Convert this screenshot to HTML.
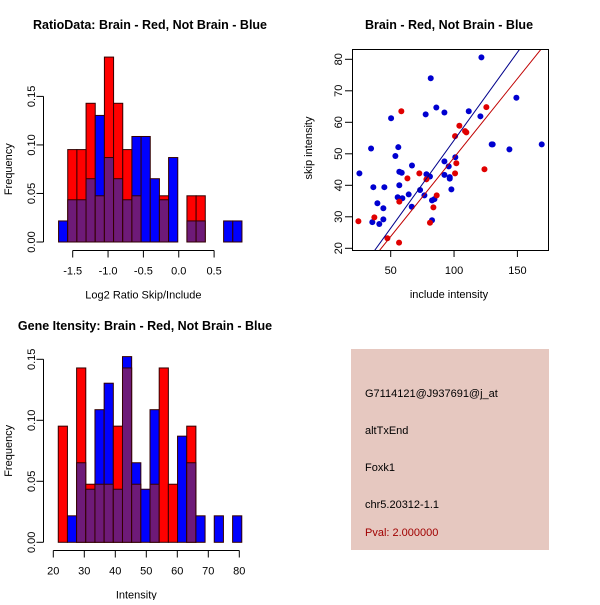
<!DOCTYPE html>
<html><head><meta charset="utf-8"><style>
body{margin:0;background:#fff}
svg text{font-family:"Liberation Sans",sans-serif;fill:#000}
</style></head><body>
<svg id="s" width="600" height="600" xmlns="http://www.w3.org/2000/svg">
<rect x="0" y="0" width="600" height="600" fill="#fff"/>
<text x="150" y="29" font-size="12.5" font-weight="bold" text-anchor="middle">RatioData: Brain - Red, Not Brain - Blue</text>
<text x="449" y="29" font-size="12.5" font-weight="bold" text-anchor="middle">Brain - Red, Not Brain - Blue</text>
<text x="145" y="330" font-size="12.5" font-weight="bold" text-anchor="middle">Gene Itensity: Brain - Red, Not Brain - Blue</text>
<g id="g1"></g>
<g id="g2"></g>
<g id="g3"></g>
<g>
<rect x="351" y="349" width="198" height="201" fill="#e6c8c0"/>
<text x="365" y="397" font-size="11">G7114121@J937691@j_at</text>
<text x="365" y="434" font-size="11">altTxEnd</text>
<text x="365" y="471" font-size="11">Foxk1</text>
<text x="365" y="508" font-size="11">chr5.20312-1.1</text>
<text x="365" y="536" font-size="11" style="fill:#a00000">Pval: 2.000000</text>
</g>
</svg>
<script>
// Ratio histogram data
const ratioStart = -1.70;
const ratioBinWidth = 0.1297;
const ratioRed = [0,0.0952,0.0952,0.1429,0.0476,0.1905,0.1429,0.0952,0.0476,0,0,0.0476,0,0,0.0476,0.0476,0,0,0,0];
const ratioBlue = [0.0217,0.0435,0.0435,0.0652,0.1304,0.0870,0.0652,0.0435,0.1087,0.1087,0.0652,0.0435,0.0870,0,0.0217,0.0217,0,0,0.0217,0.0217];
const ratioXTicks = [-1.5,-1.0,-0.5,0.0,0.5];
const ratioXLabels = ["-1.5","-1.0","-0.5","0.0","0.5"];
const freqTicks = [0,0.05,0.10,0.15];
const freqLabels = ["0.00","0.05","0.10","0.15"];
// Intensity histogram data
const intStart = 21.6;
const intBinWidth = 2.96;
const intRed = [0.0952,0,0.1429,0.0476,0.0476,0.0476,0.0952,0.1429,0.0476,0,0.0476,0.1429,0.0476,0,0.0952,0,0,0,0,0];
const intBlue = [0,0.0217,0.0652,0.0435,0.1087,0.1304,0.0435,0.1522,0.0652,0.0435,0.1087,0,0,0.0870,0.0652,0.0217,0,0.0217,0,0.0217];
const intXTicks = [20,30,40,50,60,70,80];
// Scatter data
const blueX = [25.3,34.5,36.3,35.5,39.5,41,44.2,44.2,45,50.3,53.7,56,56.8,58.7,56.8,55.5,59.2,66.8,64.2,66.6,73.2,76.6,77.6,78.2,81,81.6,82.6,84.5,82.6,86,92.4,92.4,92.4,95.8,96.6,96.6,97.9,101,111.6,120.8,121.6,129.7,130.5,143.7,149.2,169.2];
const blueY = [43.8,51.7,39.4,28.3,34.3,27.7,32.7,29.2,39.4,61.3,49.3,52.1,44.3,44.0,40,36.2,35.9,46.3,37.1,33.2,38.5,36.8,62.5,43.5,42.8,74,35.2,35.6,28.9,64.7,63.1,47.6,43.3,46,42.6,42.1,38.7,48.9,63.5,61.9,80.6,53,53,51.4,67.8,53];
const redX = [24.5,37.1,47.4,56.6,56.8,58.4,63.2,72.6,78.2,81,83.7,86.3,100.8,100.8,101.8,104.2,108.7,109.7,124,125.5];
const redY = [28.6,29.8,23.2,21.8,34.8,63.5,42.2,43.8,41.9,28.1,33,36.8,55.6,43.8,47,58.9,57.2,56.8,45.1,64.8];
const fitIntercepts = [-1.5,-1.3];
const fitSlopes = [0.558,0.501];
const scXTicks = [50,100,150];
const scYTicks = [20,30,40,50,60,70,80];

const NS="http://www.w3.org/2000/svg";
function mk(parent,tag,attrs){const e=document.createElementNS(NS,tag);for(const k in attrs)e.setAttribute(k,attrs[k]);parent.appendChild(e);return e;}

function hist(g,start,bw,red,blue,xs,ys,xTicks,xLabels,xLab,axisY){
  for(let i=0;i<red.length;i++){
    const x0=xs(start+i*bw),x1=xs(start+(i+1)*bw);
    const r=red[i],b=blue[i];const mn=Math.min(r,b),mx=Math.max(r,b);
    if(mx>0){
      const e=mk(g,'rect',{x:x0,y:ys(mx),width:x1-x0,height:ys(0)-ys(mx),fill:r>b?'#ff0000':'#0000ff',stroke:'#300',"stroke-width":1});
      
      
    }
    if(mn>0){
      const e=mk(g,'rect',{x:x0,y:ys(mn),width:x1-x0,height:ys(0)-ys(mn),fill:'#6e1a78',stroke:'#300',"stroke-width":1});
      
      
    }
  }
  const ya=mk(g,'line',{x1:43.5,x2:43.5,y1:ys(freqTicks[0]),y2:ys(freqTicks[freqTicks.length-1]),stroke:'#000'});
  
  
  freqTicks.forEach((t,i)=>{
    mk(g,'line',{x1:36.5,x2:43.5,y1:ys(t),y2:ys(t),stroke:'#000'});
    const tx=mk(g,'text',{x:0,y:0,"font-size":11,"text-anchor":"middle",transform:`translate(35,${ys(t)}) rotate(-90)`});
    tx.textContent=freqLabels[i];
    
    
  });
  const xa=mk(g,'line',{x1:xs(xTicks[0]),x2:xs(xTicks[xTicks.length-1]),y1:axisY,y2:axisY,stroke:'#000'});
  
  
  xTicks.forEach((t,i)=>{
    mk(g,'line',{x1:xs(t),x2:xs(t),y1:axisY,y2:axisY+7,stroke:'#000'});
    const tx=mk(g,'text',{x:xs(t),y:axisY+24,"font-size":11,"text-anchor":"middle"});
    tx.textContent=xLabels[i];
    
    
  });
  const xl=mk(g,'text',{x:(xs(xTicks[0])+xs(xTicks[xTicks.length-1]))/2+ (xLab==='Intensity'?-10:0),y:axisY+48,"font-size":11,"text-anchor":"middle"});
  xl.textContent=xLab;
  
  
  const yl=mk(g,'text',{x:0,y:0,"font-size":11,"text-anchor":"middle",transform:`translate(12,${(ys(0)+ys(0.15))/2}) rotate(-90)`});
  yl.textContent='Frequency';
  
  
}

const g1=document.getElementById('g1');
hist(g1,ratioStart,ratioBinWidth,ratioRed,ratioBlue,v=>72.7+(v+1.5)*70.7,v=>242-v*970.7,ratioXTicks,ratioXLabels,'Log2 Ratio Skip/Include',250.5);
const g3=document.getElementById('g3');
hist(g3,intStart,intBinWidth,intRed,intBlue,v=>53.3+(v-20)*3.1,v=>542.3-v*1220,intXTicks,intXTicks.map(String),'Intensity',550.5);

const g2=document.getElementById('g2');
const sx=v=>390.7+(v-50)*1.267, sy=v=>248.3-(v-20)*3.15;
const bx0=352,bx1=548,by0=49,by1=250;
mk(g2,'clipPath',{id:'cp'}).appendChild(document.createElementNS(NS,'rect'));
const cr=document.querySelector('#cp rect');cr.setAttribute('x',bx0);cr.setAttribute('y',by0);cr.setAttribute('width',bx1-bx0);cr.setAttribute('height',by1-by0);
blueX.forEach((x,i)=>{
  const c=mk(g2,'circle',{cx:sx(x),cy:sy(blueY[i]),r:3,fill:'#0000d0'});
  
  
});
redX.forEach((x,i)=>{
  const c=mk(g2,'circle',{cx:sx(x),cy:sy(redY[i]),r:3,fill:'#e00000'});
  
  
});
const lineCols=['#00008b','#c00000'];
fitIntercepts.forEach((a,i)=>{
  const b=fitSlopes[i];const xa=0,xb=200;
  const l=mk(g2,'line',{x1:sx(xa),y1:sy(a+b*xa),x2:sx(xb),y2:sy(a+b*xb),stroke:lineCols[i],"stroke-width":1,"clip-path":"url(#cp)"});
  
  
});
const box=mk(g2,'rect',{x:bx0+0.5,y:by0+0.5,width:bx1-bx0,height:by1-by0,fill:'none',stroke:'#000'});


scXTicks.forEach(t=>{
  mk(g2,'line',{x1:sx(t),x2:sx(t),y1:by1,y2:by1+7,stroke:'#000'});
  const tx=mk(g2,'text',{x:sx(t),y:by1+24,"font-size":11,"text-anchor":"middle"});
  tx.textContent=String(t);
  
  
});
scYTicks.forEach(t=>{
  mk(g2,'line',{x1:bx0-7,x2:bx0,y1:sy(t),y2:sy(t),stroke:'#000'});
  const tx=mk(g2,'text',{x:0,y:0,"font-size":11,"text-anchor":"middle",transform:`translate(${bx0-10},${sy(t)}) rotate(-90)`});
  tx.textContent=String(t);
  
  
});
const sxl=mk(g2,'text',{x:449,y:298,"font-size":11,"text-anchor":"middle"});
sxl.textContent='include intensity';


const syl=mk(g2,'text',{x:0,y:0,"font-size":11,"text-anchor":"middle",transform:'translate(312,148) rotate(-90)'});
syl.textContent='skip intensity';


</script>
</body></html>
